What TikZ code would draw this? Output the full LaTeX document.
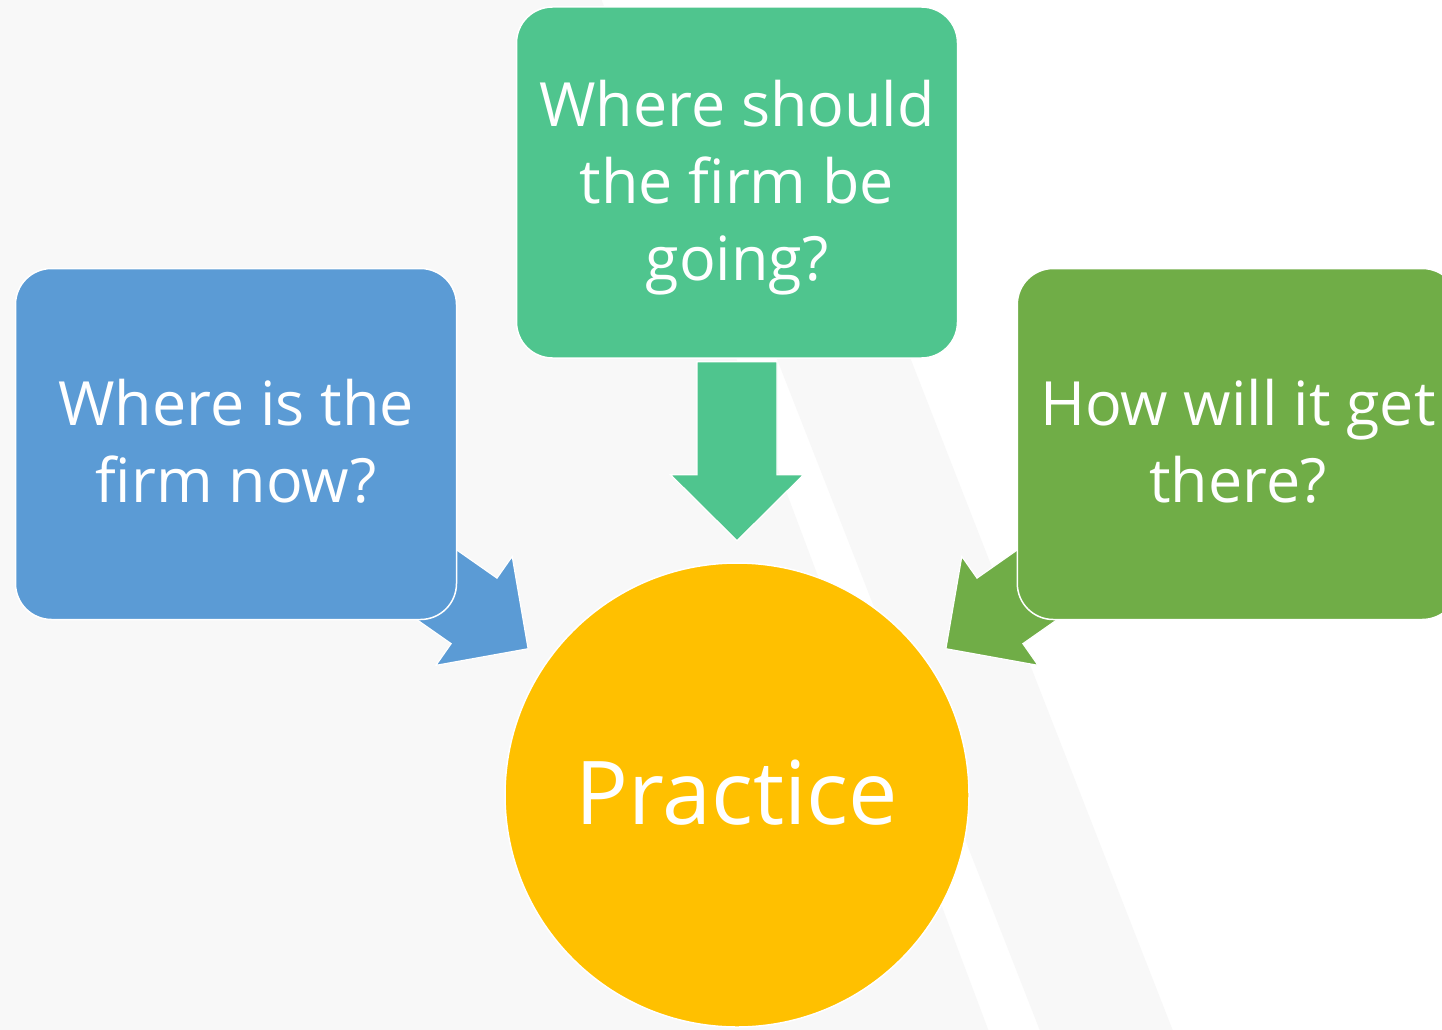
\documentclass[tikz,border=0pt]{standalone}
\usepackage{fontspec}
\setmainfont{Open Sans}[Ligatures=NoCommon]
\usetikzlibrary{calc}
\definecolor{bgray}{HTML}{F8F8F8}
\definecolor{boxblue}{HTML}{5B9BD5}
\definecolor{boxteal}{HTML}{4FC58E}
\definecolor{boxgreen}{HTML}{70AD47}
\definecolor{gold}{HTML}{FFC000}

\begin{document}
\begin{tikzpicture}[x=1pt,y=-1pt,
  box/.style={draw=white, line width=1.5pt, rounded corners=36pt,
    minimum width=441pt, minimum height=351pt, inner sep=0pt},
  hub/.style={circle, draw=white, line width=1.5pt, fill=gold,
    minimum size=464pt, inner sep=0pt},
  lbl/.style={text=white, align=center, inner sep=0pt,
    font=\fontsize{61}{77}\selectfont},
  pics/blockarrow/.style={code={
    \filldraw[draw=white, line width=1.2pt]
      (0,-40) -- (113,-40) -- (113,-66.5) -- (179,0) -- (113,66.5)
      -- (113,40) -- (0,40) -- cycle;}}
]
\useasboundingbox (0,0) rectangle (1442,1030);
\clip (0,0) rectangle (1442,1030);

% backdrop: light grey field with white diagonal bands
\fill[white] (0,0) rectangle (1442,1030);
\fill[bgray] (0,0) -- (601.6,0) -- (988.3,1030) -- (0,1030) -- cycle;
\fill[bgray] (648.1,30) -- (782.2,30) -- (1172.6,1030) -- (1039.7,1030) -- cycle;

% centre of the circle, used to aim the side arrows
\path (737,795) coordinate (hubc);

% block arrows (drawn beneath the boxes)
\coordinate (tealfoot) at (737,361.7);
\pic[fill=boxteal, rotate=-90] at (tealfoot) {blockarrow};
\pic[fill=boxblue, rotate=-35] at ($(hubc)+(215:434)$) {blockarrow};
\pic[fill=boxgreen, rotate=-145] at ($(hubc)+(325:434)$) {blockarrow};

% boxes
\node[box, fill=boxblue]  (now)  at (236,444) {};
\node[box, fill=boxteal]  (goal) at (737,182.5) {};
\node[box, fill=boxgreen] (how)  at (1237.8,444) {};
\node[hub] (practice) at (hubc) {};

% labels
\node[lbl] (nowtext)  at ($(now.center)+(0,-3.2)$)  {Where is the\\firm now?};
\node[lbl] (goaltext) at ($(goal.center)+(0,5.6)$)  {Where should\\the firm be\\going?};
\node[lbl] (howtext)  at ($(how.center)+(0,-3.2)$)  {How will it get\\there?};
\node[text=white, inner sep=0pt, font=\fontsize{88}{90}\selectfont]
  (practicetext) at ($(practice.center)+(0,-2)$) {Practice};
\end{tikzpicture}
\end{document}
